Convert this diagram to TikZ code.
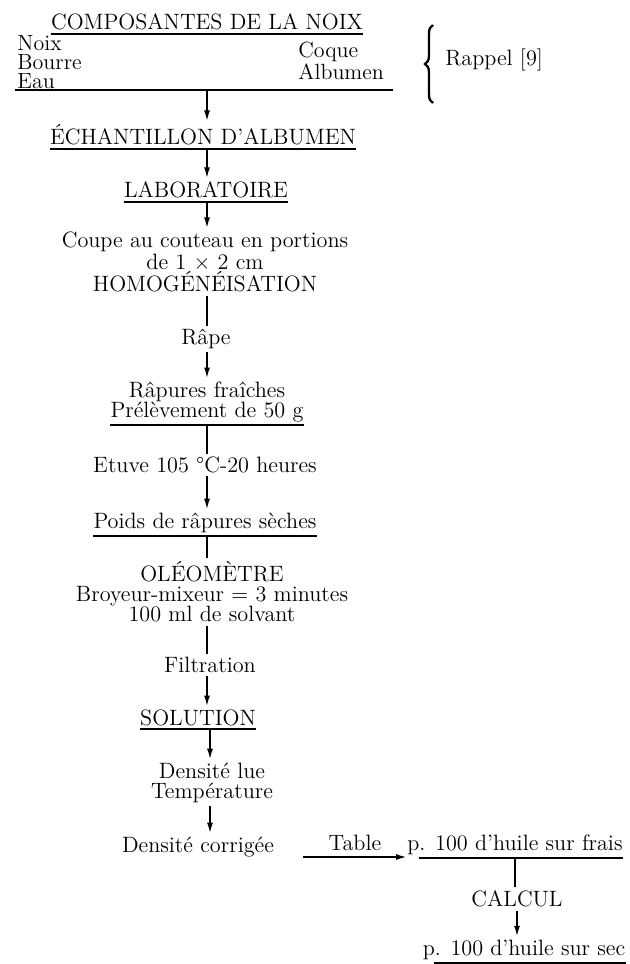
\documentclass[tikz,border=0pt]{standalone}
\usepackage{tikz}
\usetikzlibrary{arrows.meta, decorations.pathreplacing}
\tikzset{%
    flow step/.style={%
        font=\fontsize{11.1}{10}\selectfont,
        align=center,
        inner xsep=0pt,
        inner ysep=1.5pt
    },%
    flow list/.style={%
        flow step,
        font=\fontsize{11}{9.6}\selectfont,
        align=left,
        anchor=west
    },%
    flow rule/.style={line width=1pt},%
    flow link/.style={line width=0.9pt},%
    flow arrow/.style={flow link, -{Latex[length=5.5pt, width=3pt]}}%
}

\begin{document}
\begin{tikzpicture}[x=0.5pt, y=-0.5pt]
\useasboundingbox (0,0) rectangle (630,964);
\coordinate (spine) at (207,0);
\coordinate (low spine) at (210,0);

% composantes de la noix
\node[flow step] (comp) at (207,22) {COMPOSANTES DE LA NOIX};
\node[flow list] (parts) at (17,62) {Noix\\Bourre\\Eau};
\node[flow list] (shell) at (298,61) {Coque\\Albumen};
\coordinate (rule west) at (15,90);
\coordinate (rule east) at (393,90);
\draw[flow rule] (rule west) -- (rule east);
\draw[decorate, decoration={brace, amplitude=4pt}, line width=1.2pt]
    (433,103) -- (433,25);
\node[flow step, anchor=west] (rappel) at (445,60) {Rappel [9]};

% main column
\node[flow step] (ech) at (203,135) {ÉCHANTILLON D'ALBUMEN};
\node[flow step] (lab) at (206,190) {LABORATOIRE};
\node[flow step] (coupe) at (205,262)
    {Coupe au couteau en portions\\[1pt]de 1 × 2 cm\hspace*{12pt}\\HOMOGÉNÉISATION};
\node[flow step] (rape) at (206,339) {Râpe};
\node[flow step] (rap) at (207,402) {Râpures fraîches\\Prélèvement de 50 g};
\node[flow step] (etuve) at (205,465) {Etuve 105 °C-20 heures};
\node[flow step] (poids) at (205,523) {Poids de râpures sèches};
\node[flow step] (oleo) at (212,592)
    {OLÉOMÈTRE\\Broyeur-mixeur = 3 minutes\\100 ml de solvant};
\node[flow step] (filt) at (210,665) {Filtration};
\node[flow step] (sol) at (198,718) {SOLUTION};
\node[flow step] (dl) at (212,783) {Densité lue\\Température};
\node[flow step] (dc) at (198,847) {Densité corrigée};

% right branch
\node[flow step] (frais) at (515,845) {p. 100 d'huile sur frais};
\node[flow step] (calc) at (517,899) {CALCUL};
\node[flow step] (sec) at (524,950) {p. 100 d'huile sur sec};

% underlines
\foreach \n in {comp, ech, lab, rap, poids, sol}
    \draw[flow rule] (\n.south west) -- (\n.south east);
\draw[flow rule] ([xshift=6pt]frais.south west) -- (frais.south east);
\draw[flow rule] ([xshift=6pt]sec.south west) -- (sec.south east);

% connectors
\draw[flow arrow] (spine |- rule west) -- (spine |- ech.north);
\draw[flow arrow] (spine |- ech.south) -- (spine |- lab.north);
\draw[flow arrow] (spine |- lab.south) -- (spine |- coupe.north);
\draw[flow link] (spine |- coupe.south) -- (spine |- rape.north);
\draw[flow arrow] (spine |- rape.south) -- (spine |- rap.north);
\draw[flow link] (spine |- rap.south) -- (spine |- etuve.north);
\draw[flow arrow] (spine |- etuve.south) -- (spine |- poids.north);
\draw[flow link] (spine |- poids.south) -- (spine |- oleo.north);
\draw[flow link] (spine |- oleo.south) -- (spine |- filt.north);
\draw[flow arrow] (spine |- filt.south) -- (spine |- sol.north);
\draw[flow arrow] (low spine |- sol.south) -- (low spine |- dl.north);
\draw[flow arrow] (low spine |- dl.south) -- (low spine |- dc.north);

\coordinate (table start) at (303,857);
\draw[flow arrow] (table start) -- (table start -| frais.west)
    node[flow step, midway, above=1pt] (table) {Table};
\draw[flow link] (frais.south) -- (frais.south |- calc.north);
\draw[flow arrow] (calc.south) -- (calc.south |- sec.north);
\end{tikzpicture}
\end{document}
